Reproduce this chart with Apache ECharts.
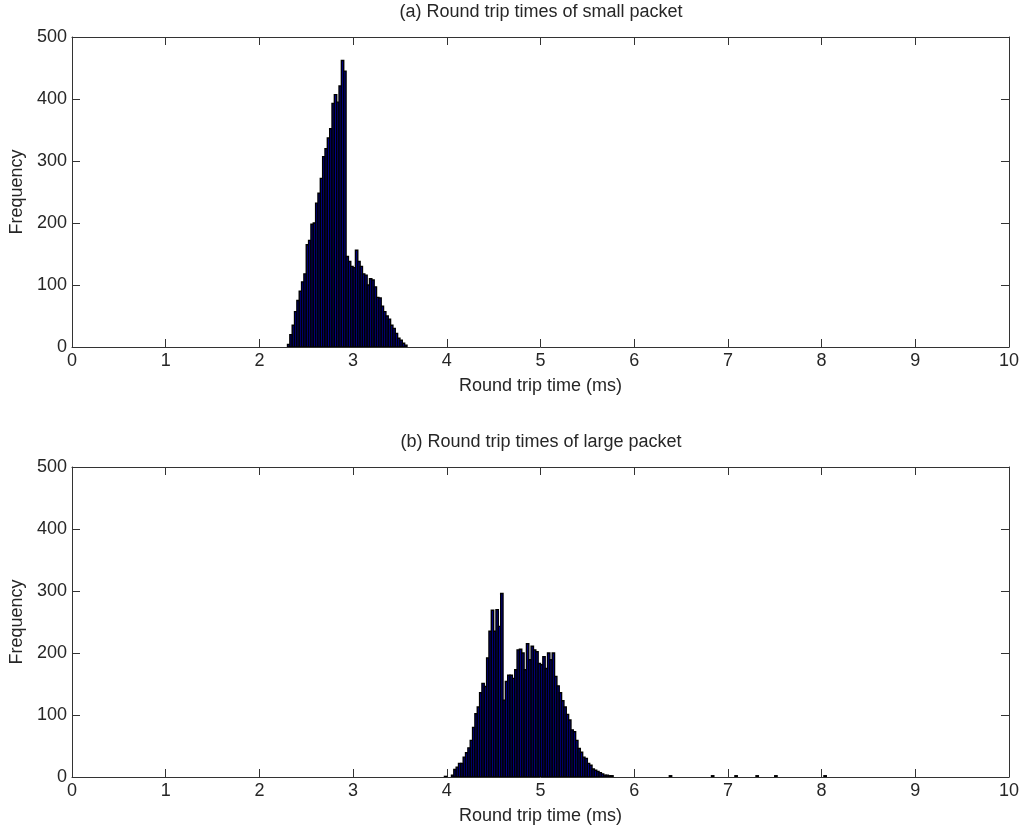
<!DOCTYPE html>
<html>
<head>
<meta charset="utf-8">
<script src="https://cdn.jsdelivr.net/npm/echarts@6/dist/echarts.min.js"></script>
<style>
  html, body { margin: 0; padding: 0; background: #fff; }
  #chart { width: 1022px; height: 828px; }
</style>
</head>
<body>
<div id="chart"></div>
<script>
// ---- Data ----
const binWidth = 0.025; // ms
const titleA = '(a) Round trip times of small packet';
const titleB = '(b) Round trip times of large packet';
const xName = 'Round trip time (ms)';
const yName = 'Frequency';
const xTicks = [0, 1, 2, 3, 4, 5, 6, 7, 8, 9, 10];
const yTicks = [0, 100, 200, 300, 400, 500];

const smallStart = 2.30;
const smallCounts = [4, 20, 35, 57, 75, 90, 105, 118, 165, 172,
  198, 200, 232, 248, 272, 307, 320, 337, 352, 393,
  407, 395, 421, 462, 445, 146, 138, 130, 128, 156,
  138, 130, 118, 116, 100, 110, 108, 97, 80, 79,
  66, 57, 50, 45, 35, 30, 22, 14, 11, 6, 3];

const largeStart = 4.05;
const largeCounts = [3, 12, 16, 22, 22, 32, 39, 47, 59, 80,
  102, 113, 136, 151, 146, 192, 235, 269, 235, 270,
  243, 296, 124, 154, 164, 164, 159, 173, 205, 206,
  200, 173, 215, 189, 211, 205, 202, 183, 181, 194,
  175, 200, 189, 200, 162, 147, 136, 123, 113, 101,
  92, 76, 73, 59, 46, 40, 32, 30, 22, 19,
  13, 11, 9, 7, 5, 3, 3, 2, 2];
const largeOutlierStarts = [3.975, 6.375, 6.825, 7.075, 7.3, 7.5, 8.025];
const largeOutlierCounts = [1, 2, 2, 2, 2, 2, 2];

// ---- Build histogram rows [left, right, count] ----
function bins(start, counts) {
  return counts.map((c, i) => {
    const l = +(start + i * binWidth).toFixed(4);
    return [l, +(l + binWidth).toFixed(4), c];
  });
}
const smallData = bins(smallStart, smallCounts);
const largeData = bins(largeStart, largeCounts).concat(
  largeOutlierStarts.map((s, i) => [s, +(s + binWidth).toFixed(4), largeOutlierCounts[i]])
);

function renderItem(params, api) {
  const p0 = api.coord([api.value(0), api.value(2)]);
  const p1 = api.coord([api.value(1), 0]);
  return {
    type: 'rect',
    shape: { x: p0[0], y: p0[1], width: p1[0] - p0[0], height: p1[1] - p0[1] },
    style: { fill: '#00008F', stroke: '#000000', lineWidth: 1.4 }
  };
}

const FONT = '"Liberation Sans", Arial, Helvetica, sans-serif';
const FS = 18;
const TXT = '#262626';
const AX = '#333333';

function xAxes(gridIndex) {
  const common = {
    type: 'value', gridIndex, min: xTicks[0], max: xTicks[xTicks.length - 1], interval: 1,
    splitLine: { show: false },
    axisLine: { show: true, onZero: false, lineStyle: { color: AX, width: 1 } },
    axisTick: { show: true, inside: true, length: 8, lineStyle: { color: AX } }
  };
  return [
    Object.assign({}, common, {
      position: 'bottom',
      name: xName, nameLocation: 'middle', nameGap: 30,
      nameTextStyle: { fontFamily: FONT, fontSize: FS, color: TXT },
      axisLabel: { show: true, margin: 5, fontFamily: FONT, fontSize: FS, color: TXT }
    }),
    Object.assign({}, common, { position: 'top', axisLabel: { show: false } })
  ];
}
function yAxes(gridIndex) {
  const common = {
    type: 'value', gridIndex, min: yTicks[0], max: yTicks[yTicks.length - 1], interval: 100,
    splitLine: { show: false },
    axisLine: { show: true, onZero: false, lineStyle: { color: AX, width: 1 } },
    axisTick: { show: true, inside: true, length: 8, lineStyle: { color: AX } }
  };
  return [
    Object.assign({}, common, {
      position: 'left',
      name: yName, nameLocation: 'middle', nameGap: 44, nameRotate: 90,
      nameTextStyle: { fontFamily: FONT, fontSize: FS, color: TXT },
      axisLabel: { show: true, margin: 5, fontFamily: FONT, fontSize: FS, color: TXT }
    }),
    Object.assign({}, common, { position: 'right', axisLabel: { show: false } })
  ];
}

const chart = echarts.init(document.getElementById('chart'), null, { renderer: 'canvas' });
chart.setOption({
  animation: false,
  backgroundColor: '#ffffff',
  title: [
    { text: titleA, left: 541, top: 3, textAlign: 'center', padding: 0,
      textStyle: { fontFamily: FONT, fontSize: FS, fontWeight: 'normal', color: TXT } },
    { text: titleB, left: 541, top: 433, textAlign: 'center', padding: 0,
      textStyle: { fontFamily: FONT, fontSize: FS, fontWeight: 'normal', color: TXT } }
  ],
  grid: [
    { left: 72, right: 11, top: 37, height: 310 },
    { left: 72, right: 11, top: 467, height: 310 }
  ],
  xAxis: xAxes(0).concat(xAxes(1)),
  yAxis: yAxes(0).concat(yAxes(1)),
  series: [
    { type: 'custom', xAxisIndex: 0, yAxisIndex: 0, renderItem, data: smallData,
      encode: { x: [0, 1], y: 2 }, clip: true },
    { type: 'custom', xAxisIndex: 2, yAxisIndex: 2, renderItem, data: largeData,
      encode: { x: [0, 1], y: 2 }, clip: true }
  ]
});
</script>
</body>
</html>
